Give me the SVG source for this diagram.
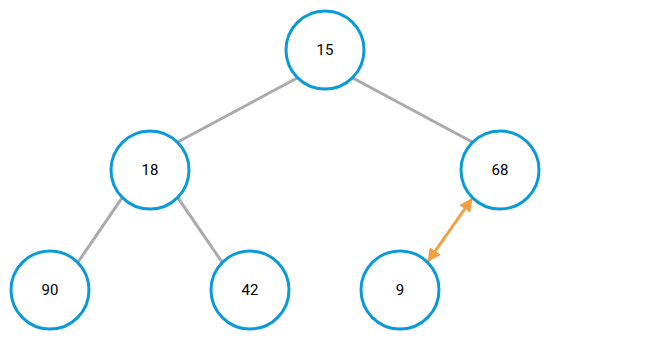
<svg xmlns="http://www.w3.org/2000/svg" width="650" height="340" viewBox="0 0 650 340">
<style>
.n circle{fill:#fff;stroke:#0a9ad9;stroke-width:3}
.n text{font-family:Roboto,"Liberation Sans",sans-serif;font-size:15px;fill:#000;text-anchor:middle;dominant-baseline:central}
.e{stroke:#aaa;stroke-width:3;fill:none}
.s{stroke:#f0a040;stroke-width:3;fill:none}
</style>
<defs>
<marker id="ah" viewBox="0 0 10 10" refX="9" refY="5" markerWidth="4.5" markerHeight="4.5" orient="auto-start-reverse" markerUnits="strokeWidth">
<path d="M0,0L10,5L0,10z" fill="#f0a040"/>
</marker>
</defs>
<g id="connectors">
<line class="e" x1="296.7" y1="78.3" x2="178.3" y2="141.7"/>
<line class="e" x1="353.3" y1="78.3" x2="471.7" y2="141.7"/>
<line class="e" x1="121.7" y1="198.3" x2="78.3" y2="261.7"/>
<line class="e" x1="178.3" y1="198.3" x2="221.7" y2="261.7"/>
<line class="s" x1="471.7" y1="199" x2="428.3" y2="261" marker-start="url(#ah)" marker-end="url(#ah)"/>
</g>
<g id="n15" class="n"><circle cx="325" cy="50" r="39"/><text x="325" y="50">15</text></g>
<g id="n18" class="n"><circle cx="150" cy="170" r="39"/><text x="150" y="170">18</text></g>
<g id="n68" class="n"><circle cx="500" cy="170" r="39"/><text x="500" y="170">68</text></g>
<g id="n90" class="n"><circle cx="50" cy="290" r="39"/><text x="50" y="290">90</text></g>
<g id="n42" class="n"><circle cx="250" cy="290" r="39"/><text x="250" y="290">42</text></g>
<g id="n9" class="n"><circle cx="400" cy="290" r="39"/><text x="400" y="290">9</text></g>
</svg>
